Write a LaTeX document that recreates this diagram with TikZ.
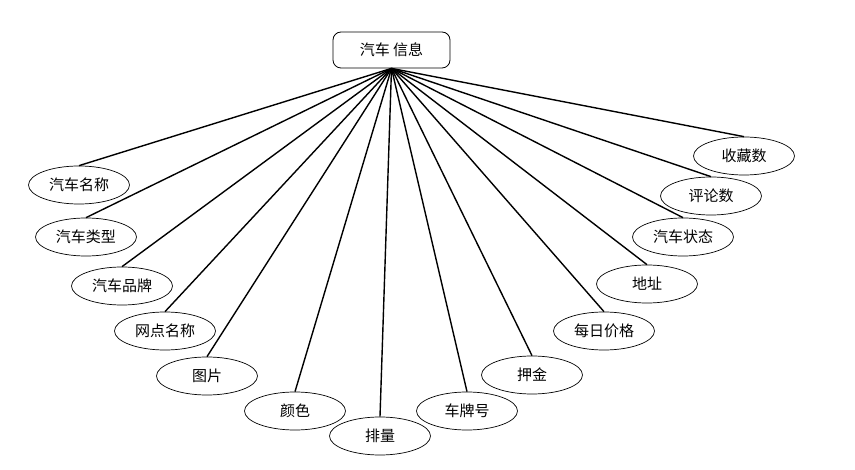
\documentclass[tikz,border=0pt]{standalone}
\usepackage{fontspec}
\newfontfamily\cjk{Noto Sans CJK SC}
\usepackage{tikz}
\usetikzlibrary{shapes.geometric}

\begin{document}
\begin{tikzpicture}[
    x=1pt, y=-1pt,
    entity/.style={rectangle, draw, thick, rounded corners=8pt, minimum width=117pt, minimum height=36pt, inner sep=0pt, font=\cjk\fontsize{15}{17}\selectfont},
    attr/.style={ellipse, draw, line width=0.7pt, minimum width=101pt, minimum height=38pt, inner sep=0pt, font=\cjk\fontsize{15}{17}\selectfont},
    link/.style={line width=1.4pt},
]
\useasboundingbox (0,0) rectangle (855,470);

% ========== ENTITY ==========
\node[entity] at (391.5,50) (car) {汽车 信息};

% ========== ATTRIBUTES (left half) ==========
\node[attr] at (79,185) (name) {汽车名称};
\node[attr] at (86,237) (type) {汽车类型};
\node[attr] at (122,286) (brand) {汽车品牌};
\node[attr] at (165,331) (outlet) {网点名称};
\node[attr] at (207,376) (photo) {图片};
\node[attr] at (295,411) (color) {颜色};
\node[attr] at (380,436) (displ) {排量};

% ========== ATTRIBUTES (right half) ==========
\node[attr] at (467,411) (plate) {车牌号};
\node[attr] at (532,375) (deposit) {押金};
\node[attr] at (604,331) (price) {每日价格};
\node[attr] at (647,284) (addr) {地址};
\node[attr] at (683,237) (status) {汽车状态};
\node[attr] at (711,196) (reviews) {评论数};
\node[attr] at (744,156) (favs) {收藏数};

% ========== CONNECTIONS ==========
\foreach \a in {name,type,brand,outlet,photo,color,displ,plate,deposit,price,addr,status,reviews,favs}
    \draw[link] (car.south) -- (\a.north);

\end{tikzpicture}
\end{document}
